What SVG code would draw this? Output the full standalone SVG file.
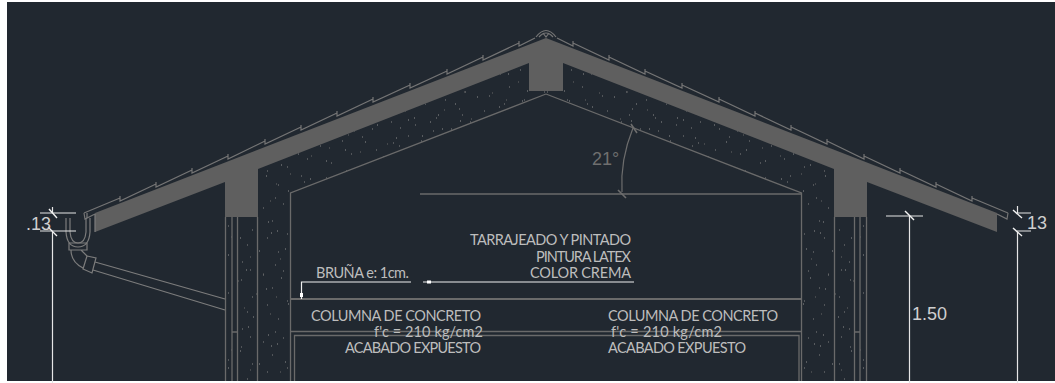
<svg xmlns="http://www.w3.org/2000/svg" xmlns:xlink="http://www.w3.org/1999/xlink" width="1055" height="383" viewBox="0 0 1055 383">
<style>
.ln{fill:none;stroke:#6a6a6a;stroke-width:1.3}
.thin{fill:none;stroke:#757575;stroke-width:1.2}
.pipe{fill:none;stroke:#7c7c7c;stroke-width:1.2}
.dim{fill:none;stroke:#e6e6e6;stroke-width:1.2}
.tick{fill:none;stroke:#f2f2f2;stroke-width:1.4}
.lead{fill:none;stroke:#efefef;stroke-width:1.2}
.band{fill:#5f5f5f;stroke:none}
.note{font-family:"Lato","Liberation Sans",Arial,sans-serif;font-size:14.5px;fill:#bdbdbd}
.num{font-family:"Liberation Sans",Arial,sans-serif;font-size:18px;fill:#cfcfcf}
</style>
<defs>
<pattern id="stipple" width="137" height="113" patternUnits="userSpaceOnUse">
<path fill="none" stroke="#8f8f8f" stroke-width="1" d="M3 5h1M11 23h1M19 9h1M24 41h1M31 16h1M36 66h1M42 27h1M49 8h1M52 48h1M58 83h1M63 19h1M71 37h1M78 5h1M84 58h1M91 29h1M97 74h1M103 12h1M109 44h1M116 91h1M122 25h1M129 63h1M134 7h1M7 52h1M14 78h1M22 99h1M44 104h1M66 97h1M88 107h1M111 101h1M131 109h1M27 2h1M75 70h1"/>
<path fill="none" stroke="#666" stroke-width="1" d="M6 33h1M16 61h1M21 29h1M29 88h1M37 43h1M46 17h1M55 35h1M60 6h1M68 76h1M74 22h1M81 93h1M86 39h1M94 11h1M101 55h1M107 82h1M113 31h1M119 68h1M126 48h1M133 88h1M2 71h1M33 110h1M53 92h1M95 100h1"/>
</pattern>
<pattern id="stipple2" width="79" height="67" patternUnits="userSpaceOnUse">
<path fill="none" stroke="#7f7f7f" stroke-width="1" d="M4 12h1M10 44h1M15 29h1M20 58h1M26 7h1M30 37h1M35 20h1M41 51h1M46 3h1M50 33h1M56 62h1M60 16h1M64 42h1M70 25h1M75 55h1M77 9h1M13 2h1M38 64h1M5 61h1M67 48h1"/>
</pattern>
</defs>
<rect x="0" y="0" width="1055" height="383" fill="#ffffff"/>
<rect x="7" y="2" width="1048" height="379" fill="#212830"/>
<g id="half-section">
<path id="concrete" fill="url(#stipple)" d="M258 169L529 63V91H546V94L290 193V381H258ZM238 217H257V381H238ZM226 217H232V381H226Z"/>
<path id="concrete-grain" fill="url(#stipple2)" d="M258 169L529 63V91H546V94L290 193V381H258ZM238 217H257V381H238ZM226 217H232V381H226Z"/>
<path id="roof-slab" class="band" d="M546 38V91H529V63L258 169V217H225V182L95 232V213Z"/>
<path id="tiles" class="thin" d="M84 213L120 198M120 196V201L156 184M156 182V187L192 170M192 168V173L228 156M228 154V159L265 141M265 139V144L301 127M301 125V130L337 113M337 111V116L373 99M373 97V102L410 85M410 83V88L447 71M447 69V74L483 57M483 55V60L519 43M519 41V46L535 38M84 213L85 219L95 214"/>
<path id="inner-lines" class="ln" d="M546 94L290.500 193V381M225.500 217V381M232 217V381M237.500 217V381M257.500 217V381M232 332H238"/>
</g>
<use xlink:href="#half-section" href="#half-section" transform="translate(1092 0) scale(-1 1)"/>
<g id="ridge">
<path class="thin" d="M536 37Q546 24 556 37M539 37Q546 29 553 37M543 33L546 37L549 33"/>
</g>
<g id="ceiling" class="ln">
<path d="M420 194H802"/>
<path d="M291 299H802" stroke-width="2"/>
<path d="M291 331.500H802M294.500 381V335.500H799V381"/>
</g>
<g id="gutter" class="pipe">
<path d="M66 218V232Q67 247 78 247Q89 247 90 232V218M70 218V232Q71 243 78 243Q85 243 86 232V218"/>
<path d="M87 213V218M95 214V232"/>
<path d="M69 243H87V250H69ZM71 250Q71 262 83 268M81 250L87 256"/>
<path d="M87 256L96 258L92 273L83 269Z"/>
<path d="M95 262L225 299M93 270L225 310"/>
</g>
<g id="connectors">
<g id="slope-dim" stroke="#6d6d6d" fill="none" stroke-width="1.2">
<path d="M633 128Q620 160 622 192"/>
<path d="M631 124L637 133M618 190L626 198" stroke-width="1.600"/>
</g>
<g id="dim-left">
<path class="dim" d="M40 213H76M40 231H76M52.500 207V213M52.500 232V383"/>
<path class="tick" d="M49 209L57 218M48 227L57 236"/>
</g>
<g id="dim-right">
<path class="dim" d="M1017 213H1031M1017 231H1031M1017.500 206V213M1017.500 232V383"/>
<path class="tick" d="M1013 210L1022 218M1013 228L1022 236"/>
</g>
<g id="dim-150">
<path class="dim" d="M886 216H923M909.500 216V383"/>
<path class="tick" d="M905 211L914 220"/>
</g>
<g id="leader-bruna">
<path class="lead" d="M411 282H301.500V299"/>
<rect x="300" y="293" width="3" height="4" fill="#fff"/>
</g>
<g id="leader-tarrajeado">
<path class="lead" d="M423 282H634"/>
<rect x="427" y="280.500" width="4" height="3" fill="#fff"/>
</g>
</g>
<g id="labels">
<text x="592" y="165" font-family="'Liberation Sans',Arial,sans-serif" font-size="18" fill="#6f6f6f">21°</text>
<text class="num" x="26" y="230">.13</text>
<text class="num" x="1027" y="229">13</text>
<text class="num" x="912" y="320">1.50</text>
<text class="note" x="470" y="245" textLength="161">TARRAJEADO Y PINTADO</text>
<text class="note" x="536" y="262" textLength="95">PINTURA LATEX</text>
<text class="note" x="530" y="278" textLength="101">COLOR CREMA</text>
<text class="note" x="316" y="278" textLength="93">BRUÑA e: 1cm.</text>
<text class="note" x="311" y="321" textLength="170">COLUMNA DE CONCRETO</text>
<text class="note" x="374" y="337" textLength="109">f'c = 210 kg/cm2</text>
<text class="note" x="345" y="353" textLength="136">ACABADO EXPUESTO</text>
<text class="note" x="608" y="321" textLength="170">COLUMNA DE CONCRETO</text>
<text class="note" x="611" y="337" textLength="111">f'c = 210 kg/cm2</text>
<text class="note" x="608" y="353" textLength="138">ACABADO EXPUESTO</text>
</g>
</svg>
